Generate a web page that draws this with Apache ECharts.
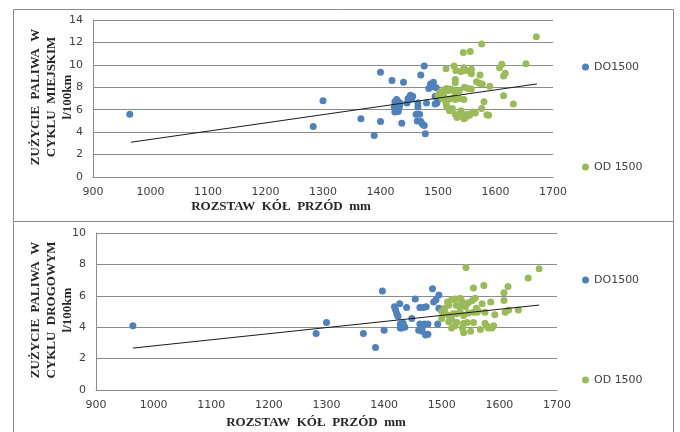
<!DOCTYPE html>
<html>
<head>
<meta charset="utf-8">
<script src="https://cdn.jsdelivr.net/npm/echarts@6/dist/echarts.min.js"></script>
<style>html,body{margin:0;padding:0;background:#fff}#c{width:680px;height:432px}</style>
</head>
<body>
<div id="c"></div>
<script>
// ---- data ----
const xTicks = [900, 1700, 100];
const yTicksTop = [0, 14, 2];
const yTicksBottom = [0, 10, 2];
const seriesNames = ['DO1500', 'OD 1500'];
const xTitle = 'ROZSTAW  KÓŁ  PRZÓD  mm';
const yTitleTop = ['ZUŻYCIE  PALIWA  W', 'CYKLU  MIEJSKIM', 'l/100km'];
const yTitleBottom = ['ZUŻYCIE  PALIWA  W', 'CYKLU  DROGOWYM', 'l/100km'];

const topBlue = [[964,5.6],[1283,4.5],[1300,6.8],[1366,5.2],[1389,3.7],[1400,9.35],[1400,4.95],[1420,8.6],[1440,8.45],[1437,4.8],
 [1428,6.9],[1425,6.7],[1430,6.75],[1434,6.6],[1424,6.25],[1428,6.1],[1425,5.8],[1431,5.85],[1426,6.4],[1433,6.3],
 [1448,7.0],[1452,7.3],[1456,7.2],[1454,6.95],[1446,6.6],[1465,6.6],[1465,6.25],[1480,6.6],
 [1462,5.6],[1468,5.6],[1464,5.0],[1470,4.95],[1476,4.6],[1473,4.7],[1478,3.85],
 [1476,9.9],[1470,9.1],[1487,8.3],[1490,8.05],[1497,7.95],[1484,7.9],[1492,8.45],
 [1495,7.2],[1498,6.6],[1500,6.9],[1495,6.5],[1500,7.1]];
const topGreen = [[1671,12.5],[1576,11.85],[1544,11.1],[1556,11.2],[1653,10.1],[1611,10.05],[1607,9.75],[1617,9.25],[1614,9.0],
 [1514,9.65],[1528,9.9],[1531,9.5],[1540,9.4],[1545,9.75],[1549,9.5],[1558,9.6],[1558,9.2],[1573,9.1],
 [1530,8.7],[1530,8.4],[1567,8.5],[1572,8.35],[1577,8.3],[1590,8.1],[1546,8.0],[1552,7.9],[1558,7.85],
 [1505,7.6],[1508,7.4],[1512,7.8],[1515,7.9],[1518,7.7],[1522,7.85],[1525,7.75],[1530,7.6],[1537,7.7],[1510,7.2],
 [1507,7.0],[1512,6.9],[1514,6.6],[1520,6.95],[1527,7.1],[1530,6.9],[1537,7.0],[1545,6.9],[1515,6.3],[1525,6.1],
 [1580,6.7],[1576,6.1],[1614,7.25],[1631,6.5],
 [1530,5.6],[1533,5.3],[1537,5.5],[1540,5.9],[1543,5.4],[1545,5.2],[1550,5.6],[1555,5.5],[1560,5.8],[1565,5.7],
 [1585,5.55],[1588,5.5],[1548,5.3],[1520,5.9],[1503,7.5],[1500,7.3]];
const topTrend = [[966,3.1],[1672,8.3]];

const bottomBlue = [[964,4.1],[1282,3.6],[1300,4.3],[1364,3.6],[1385,2.7],[1397,6.3],[1400,3.8],[1427,5.5],[1420,5.1],[1422,4.85],[1424,4.7],[1418,5.3],
 [1439,5.25],[1448,4.55],[1428,4.2],[1433,4.25],[1430,3.95],[1436,4.0],[1428,3.95],[1432,4.1],[1454,5.8],[1462,5.25],[1468,5.25],[1473,5.3],
 [1484,6.45],[1486,5.6],[1490,5.75],[1495,6.05],[1495,5.2],[1493,4.2],[1462,4.2],[1470,4.2],[1476,4.2],[1460,3.8],[1466,3.75],[1472,3.5],[1476,3.55],[1466,4.0]];
const bottomGreen = [[1542,7.8],[1669,7.73],[1650,7.13],[1555,6.5],[1573,6.65],[1615,6.6],[1608,6.2],[1608,5.7],
 [1510,5.6],[1512,5.4],[1517,5.75],[1523,5.8],[1525,5.4],[1532,5.85],[1535,5.65],[1531,5.3],[1541,5.3],[1542,5.45],[1546,5.55],[1553,5.7],[1558,5.85],[1560,5.2],[1563,5.05],
 [1500,5.0],[1506,4.9],[1512,4.75],[1520,4.85],[1526,4.85],[1532,4.95],[1538,4.75],[1546,4.9],[1555,4.95],[1561,4.95],[1575,4.95],[1592,4.8],[1610,4.95],[1616,5.1],[1633,5.1],
 [1500,4.55],[1512,4.35],[1517,4.5],[1526,4.3],[1538,4.25],[1544,4.3],[1555,4.3],[1575,4.25],[1578,4.1],[1590,4.1],
 [1517,3.95],[1536,3.95],[1538,3.65],[1550,3.75],[1567,3.85],[1581,3.95],[1587,3.95],[1523,4.1],[1505,5.2],[1570,5.5],[1585,5.6]];
const bottomTrend = [[964,2.67],[1669,5.41]];

// ---- styling ----
const BLUE = '#4F81BD', GREEN = '#9BBB59', GRID = '#8c8c8c', LABEL = '#404040';
const SANS = 'DejaVu Sans', SERIF = 'Liberation Serif';

function xAxis(gi){
  return {type:'value', gridIndex:gi, min:xTicks[0], max:xTicks[1], interval:xTicks[2],
    axisLine:{show:true, lineStyle:{color:GRID}}, axisTick:{show:false}, splitLine:{show:false},
    axisLabel:{color:LABEL, fontFamily:SANS, fontSize:11, margin:10, formatter:v => String(v)}};
}
function yAxis(gi, t){
  return {type:'value', gridIndex:gi, min:t[0], max:t[1], interval:t[2],
    axisLine:{show:true, lineStyle:{color:GRID}}, axisTick:{show:false},
    splitLine:{show:true, lineStyle:{color:GRID, width:1}},
    axisLabel:{color:LABEL, fontFamily:SANS, fontSize:11, margin:10, formatter:v => String(v)}};
}
function scatter(name, gi, data, color){
  return {type:'scatter', name:name, xAxisIndex:gi, yAxisIndex:gi, data:data, symbolSize:7,
    itemStyle:{color:color, opacity:1}, z:3};
}
function trend(gi, data){
  return {type:'line', name:'trend', xAxisIndex:gi, yAxisIndex:gi, data:data, symbol:'none', silent:true,
    lineStyle:{color:'#1a1a1a', width:1}, z:4};
}
function legend(name, top){
  return {data:[name], orient:'vertical', left:582, top:top, padding:0, icon:'circle', itemWidth:7, itemHeight:7,
    itemGap:0, itemStyle:{opacity:1}, textStyle:{color:LABEL, fontFamily:SANS, fontSize:11, lineHeight:12}, selectedMode:false};
}
function yTitle(lines, cx, cy){
  return {type:'text', x:cx, y:cy, rotation:Math.PI/2, silent:true,
    style:{text:lines.join('\n'), x:0, y:0, align:'center', verticalAlign:'middle',
      font:'bold 13px "'+SERIF+'"', lineHeight:16, fill:'#262626'}};
}
function xTitleG(cx, cy){
  return {type:'text', x:cx, y:cy, silent:true,
    style:{text:xTitle, x:0, y:0, align:'center', verticalAlign:'middle', font:'bold 13px "'+SERIF+'"', fill:'#262626'}};
}

const chart = echarts.init(document.getElementById('c'), null, {renderer:'canvas'});
chart.setOption({
  animation:false,
  backgroundColor:'#fff',
  grid:[
    {left:93, top:20, width:460, height:157},
    {left:96, top:233, width:461, height:157}
  ],
  xAxis:[xAxis(0), xAxis(1)],
  yAxis:[yAxis(0, yTicksTop), yAxis(1, yTicksBottom)],
  legend:[
    legend(seriesNames[0], 61), legend(seriesNames[1], 161),
    legend(seriesNames[0], 274), legend(seriesNames[1], 374)
  ],
  series:[
    scatter(seriesNames[0], 0, topBlue, BLUE),
    scatter(seriesNames[1], 0, topGreen, GREEN),
    trend(0, topTrend),
    scatter(seriesNames[0], 1, bottomBlue, BLUE),
    scatter(seriesNames[1], 1, bottomGreen, GREEN),
    trend(1, bottomTrend)
  ],
  graphic:[
    {type:'rect', shape:{x:13.5, y:9.5, width:660, height:212}, style:{fill:'none', stroke:'#8c8c8c', lineWidth:1}, silent:true},
    {type:'rect', shape:{x:13.5, y:221.5, width:660, height:220}, style:{fill:'none', stroke:'#8c8c8c', lineWidth:1}, silent:true},
    yTitle(yTitleTop, 52, 97),
    yTitle(yTitleBottom, 52, 310),
    xTitleG(281, 207),
    xTitleG(316, 423)
  ]
});
</script>
</body>
</html>
